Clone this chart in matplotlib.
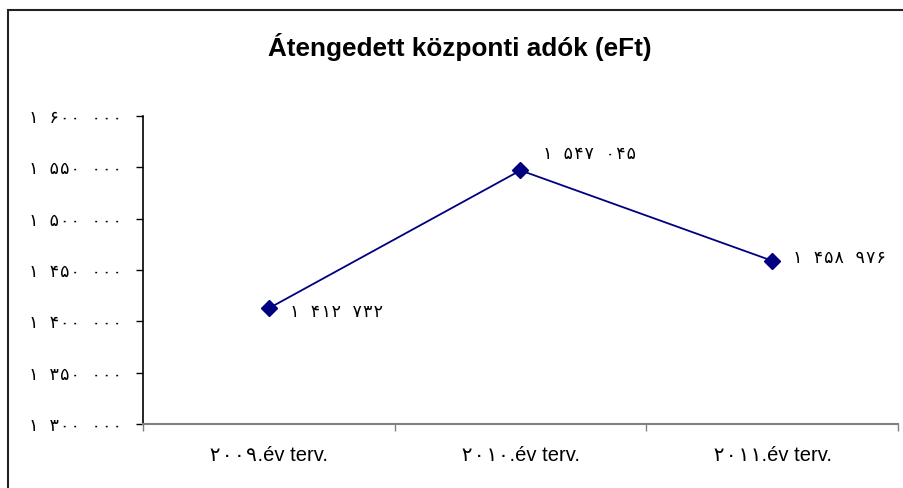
import matplotlib
matplotlib.use("Agg")
import matplotlib.pyplot as plt
from matplotlib.patches import Rectangle
from matplotlib.ticker import FixedLocator, FuncFormatter

plt.rcParams['font.family'] = ['Liberation Sans', 'DejaVu Sans Mono', 'DejaVu Sans']
DIGIT_FONT = ['DejaVu Sans Mono', 'DejaVu Sans']

title = "Átengedett központi adók (eFt)"
categories = ["۲۰۰۹.év terv.", "۲۰۱۰.év terv.", "۲۰۱۱.év terv."]
values = [1412732, 1547045, 1458976]
y_ticks = [1300000, 1350000, 1400000, 1450000, 1500000, 1550000, 1600000]

PERSIAN = str.maketrans("0123456789", "۰۱۲۳۴۵۶۷۸۹")


def fmt(v):
    s = f"{int(v):,}".replace(",", " ")
    return s.translate(PERSIAN)


W, H = 904, 488
fig = plt.figure(figsize=(W / 100, H / 100), dpi=100)
fig.patch.set_facecolor("white")

# outer chart border (cropped on right/bottom)
fig.add_artist(Rectangle((8 / W, -0.1), 1.2, (H - 10) / H + 0.1,
                         transform=fig.transFigure, fill=False,
                         edgecolor="#222222", linewidth=1.5))

ax = fig.add_axes([143 / W, 1 - 424 / H, (898 - 143) / W, (424 - 116) / H])
ax.set_facecolor("none")

x = list(range(len(categories)))
ax.plot(x, values, color="#000080", linewidth=1.3, marker="D",
        markersize=8, markerfacecolor="#000080", markeredgecolor="#000080",
        zorder=3)

ax.set_xlim(-0.5, len(categories) - 0.5)
ax.set_ylim(y_ticks[0], y_ticks[-1])

ax.yaxis.set_major_locator(FixedLocator(y_ticks))
ax.yaxis.set_major_formatter(FuncFormatter(lambda v, p: fmt(v)))
ax.tick_params(axis="y", direction="out", length=5, width=1, color="black",
               pad=10, labelsize=12.5)
for lab in ax.get_yticklabels():
    lab.set_family(DIGIT_FONT)

ax.set_xticks([i - 0.5 for i in range(len(categories) + 1)])
ax.set_xticklabels([])
ax.set_xticks(x, minor=True)
ax.set_xticklabels(categories, minor=True, fontsize=14.5)
ax.tick_params(axis="x", which="major", direction="out", length=5,
               width=1, color="#808080")
ax.tick_params(axis="x", which="minor", length=0, pad=16)

for s in ("top", "right"):
    ax.spines[s].set_visible(False)
ax.spines["left"].set_color("black")
ax.spines["left"].set_linewidth(1.2)
ax.spines["bottom"].set_color("#808080")
ax.spines["bottom"].set_linewidth(1.5)

# data labels
offsets = [(20, -4), (22, 16), (20, 3)]
for xi, v, (dx, dy) in zip(x, values, offsets):
    ax.annotate(fmt(v), (xi, v), xytext=(dx, dy), textcoords="offset pixels",
                ha="left", va="center", fontsize=12.5, family=DIGIT_FONT)

fig.text(460 / W, 1 - 47 / H, title, ha="center", va="center",
         fontsize=18.8, fontweight="bold")

fig.savefig("out.png", dpi=100)
